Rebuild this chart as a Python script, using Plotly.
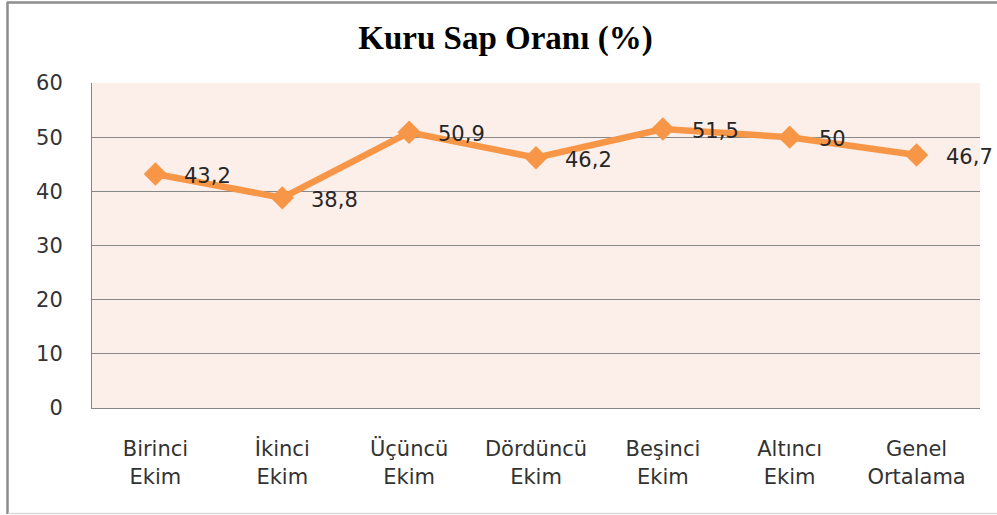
import plotly.graph_objects as go

categories = ["Birinci<br>Ekim", "İkinci<br>Ekim", "Üçüncü<br>Ekim", "Dördüncü<br>Ekim",
              "Beşinci<br>Ekim", "Altıncı<br>Ekim", "Genel<br>Ortalama"]
values = [43.2, 38.8, 50.9, 46.2, 51.5, 50, 46.7]
y_ticks = [0, 10, 20, 30, 40, 50, 60]
title_text = "Kuru Sap Oranı (%)"

labels = [f"{v:g}".replace(".", ",") for v in values]

fig = go.Figure()
fig.add_trace(go.Scatter(
    x=categories, y=values, mode="lines+markers",
    line=dict(color="#F79646", width=6.5),
    marker=dict(symbol="diamond", size=18, color="#F79646"),
    hoverinfo="skip", showlegend=False,
))

for c, v, t in zip(categories, values, labels):
    fig.add_annotation(x=c, y=v, text=t, showarrow=False, xanchor="left",
                       yanchor="middle", xshift=27, yshift=-2,
                       font=dict(family="DejaVu Sans", size=21, color="#262626"))

L, R, T, B = 92, 17, 83, 107
W, H = 997, 515
pw, ph = W - L - R, H - T - B

def px(x):
    return (x - L) / pw

def py(y):
    return (H - B - y) / ph

# outer chart border
fig.add_shape(type="line", xref="paper", yref="paper", x0=px(7), x1=px(1000),
              y0=py(2.5), y1=py(2.5), line=dict(color="#8C8C8C", width=2.5))
fig.add_shape(type="line", xref="paper", yref="paper", x0=px(7.5), x1=px(7.5),
              y0=py(2), y1=py(514), line=dict(color="#8C8C8C", width=2.5))
fig.add_shape(type="line", xref="paper", yref="paper", x0=px(8), x1=px(1000),
              y0=py(513.5), y1=py(513.5), line=dict(color="#D9D9D9", width=1.5))

fig.update_layout(
    width=W, height=H,
    margin=dict(l=L, r=R, t=T, b=B),
    paper_bgcolor="white",
    plot_bgcolor="#FCEEE9",
    title=dict(text="<b>" + title_text + "</b>", x=0.507, xanchor="center",
               y=1 - 37 / H, yanchor="middle", yref="container",
               font=dict(family="Liberation Serif", size=33, color="black")),
    xaxis=dict(type="category", range=[-0.5, len(categories) - 0.5],
               showgrid=False, showline=True, linecolor="#868686", linewidth=1,
               ticks="", ticklabelstandoff=22,
               tickfont=dict(family="DejaVu Sans", size=21, color="#333333")),
    yaxis=dict(range=[0, 60], tickvals=y_ticks, showgrid=True, gridcolor="#888888",
               gridwidth=1, showline=True, linecolor="#868686", linewidth=1,
               zeroline=False, ticks="", ticklabelstandoff=24,
               tickfont=dict(family="DejaVu Sans", size=21, color="#333333")),
)

fig.write_html("out.html", config={"displayModeBar": False},
               post_script="document.body.style.margin='0px';")
